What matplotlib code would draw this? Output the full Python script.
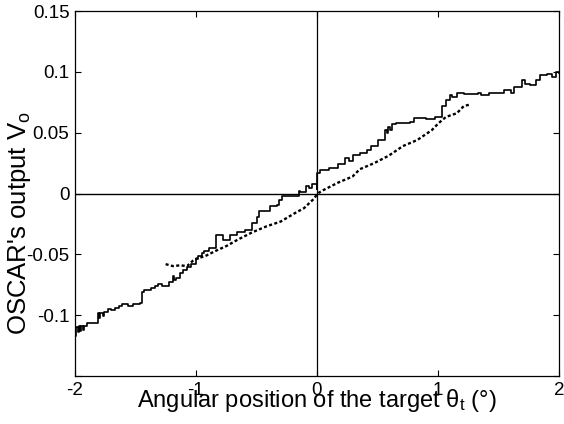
import matplotlib
matplotlib.use("Agg")
import matplotlib.pyplot as plt

plt.rcParams['font.family'] = ['Liberation Sans', 'DejaVu Sans']
plt.rcParams['mathtext.fontset'] = 'custom'
plt.rcParams['mathtext.rm'] = 'Liberation Sans'
plt.rcParams['mathtext.it'] = 'Liberation Sans:italic'

# Solid staircase series: target angle (deg) -> OSCAR output V
solid_x = [-2.000, -1.990, -1.979, -1.970, -1.958, -1.948, -1.935, -1.925, -1.905, -1.810, -1.800,
           -1.790, -1.771, -1.760, -1.727, -1.700, -1.667, -1.640, -1.608, -1.560, -1.519, -1.459,
           -1.444, -1.429, -1.370, -1.340, -1.311, -1.280, -1.221, -1.192, -1.180, -1.162, -1.132,
           -1.110, -1.073, -1.040, -0.999, -0.980, -0.954, -0.930, -0.894, -0.835, -0.776, -0.716,
           -0.657, -0.597, -0.538, -0.493, -0.478, -0.389, -0.330, -0.315, -0.285, -0.152, -0.137,
           -0.092, -0.062, -0.040, -0.003, 0.000, 0.027, 0.100, 0.175, 0.235, 0.264, 0.300, 0.354,
           0.413, 0.443, 0.502, 0.562, 0.575, 0.591, 0.605, 0.621, 0.651, 0.770, 0.799, 0.900,
           0.978, 1.037, 1.067, 1.097, 1.120, 1.156, 1.215, 1.334, 1.360, 1.423, 1.542, 1.600,
           1.632, 1.691, 1.721, 1.760, 1.810, 1.840, 1.899, 1.940, 1.973, 2.000]
solid_y = [-0.117, -0.110, -0.114, -0.109, -0.113, -0.109, -0.112, -0.109, -0.1066, -0.098, -0.102,
           -0.098, -0.1005, -0.097, -0.095, -0.096, -0.094, -0.092, -0.091, -0.092, -0.091, -0.090,
           -0.081, -0.079, -0.078, -0.076, -0.0746, -0.076, -0.073, -0.068, -0.071, -0.069, -0.065,
           -0.063, -0.060, -0.058, -0.054, -0.051, -0.049, -0.047, -0.0445, -0.034, -0.038, -0.034,
           -0.032, -0.030, -0.024, -0.019, -0.0145, -0.010, -0.009, -0.005, -0.002, 0.002, 0.001,
           0.006, 0.0046, 0.008, 0.004, 0.017, 0.0197, 0.021, 0.024, 0.029, 0.027, 0.032, 0.033,
           0.036, 0.039, 0.044, 0.052, 0.050, 0.055, 0.052, 0.057, 0.058, 0.059, 0.062, 0.061,
           0.063, 0.072, 0.077, 0.081, 0.079, 0.0825, 0.082, 0.083, 0.081, 0.083, 0.085, 0.083,
           0.0874, 0.093, 0.090, 0.089, 0.093, 0.0975, 0.098, 0.096, 0.100, 0.099]

# Dotted series
dot_x = [-1.251, -1.192, -1.132, -1.073, -1.013, -0.924, -0.835, -0.746, -0.657, -0.538, -0.419,
         -0.300, -0.181, -0.107, -0.033, 0.012, 0.056, 0.175, 0.294, 0.354, 0.473, 0.591, 0.710,
         0.829, 0.918, 0.948, 1.007, 1.067, 1.156, 1.215, 1.260]
dot_y = [-0.058, -0.0596, -0.059, -0.0596, -0.054, -0.0514, -0.047, -0.043, -0.038, -0.032, -0.027,
         -0.023, -0.016, -0.012, -0.005, 0.0005, 0.003, 0.009, 0.014, 0.020, 0.025, 0.031, 0.039,
         0.044, 0.050, 0.052, 0.058, 0.063, 0.066, 0.072, 0.073]

x_ticks = [-2, -1, 0, 1, 2]
x_ticklabels = ['-2', '-1', '0', '1', '2']
y_ticks = [-0.15, -0.1, -0.05, 0, 0.05, 0.1, 0.15]
y_ticklabels = ['', '-0.1', '-0.05', '0', '0.05', '0.1', '0.15']

fig = plt.figure(figsize=(5.64, 4.24), dpi=100)
ax = fig.add_axes([0.133, 0.113, 0.858, 0.861])

ax.axhline(0, color='black', lw=1.0)
ax.axvline(0, color='black', lw=0.9)
ax.plot(solid_x, solid_y, color='black', lw=1.2, drawstyle='steps-post')
ax.plot(dot_x, dot_y, color='black', lw=1.7, linestyle=(0, (1.3, 1.0)))

ax.set_xlim(-2, 2)
ax.set_ylim(-0.15, 0.15)
ax.set_xticks(x_ticks)
ax.set_xticklabels(x_ticklabels)
ax.set_yticks(y_ticks)
ax.set_yticklabels(y_ticklabels)
ax.tick_params(direction='in', top=True, right=True, labelsize=13.5, length=4, width=0.8, pad=4)
for s in ax.spines.values():
    s.set_linewidth(0.9)

ax.set_xlabel(r"Angular position of the target $\mathregular{\theta_t}$ (°)", fontsize=17)
ax.xaxis.set_label_coords(0.5, -0.085)
ax.xaxis.label.set_va('baseline')
ax.set_ylabel(r"OSCAR's output V$_\mathregular{o}$", fontsize=18.5)
ax.yaxis.set_label_coords(-0.087, 0.42)

fig.savefig("out.png", dpi=100)
